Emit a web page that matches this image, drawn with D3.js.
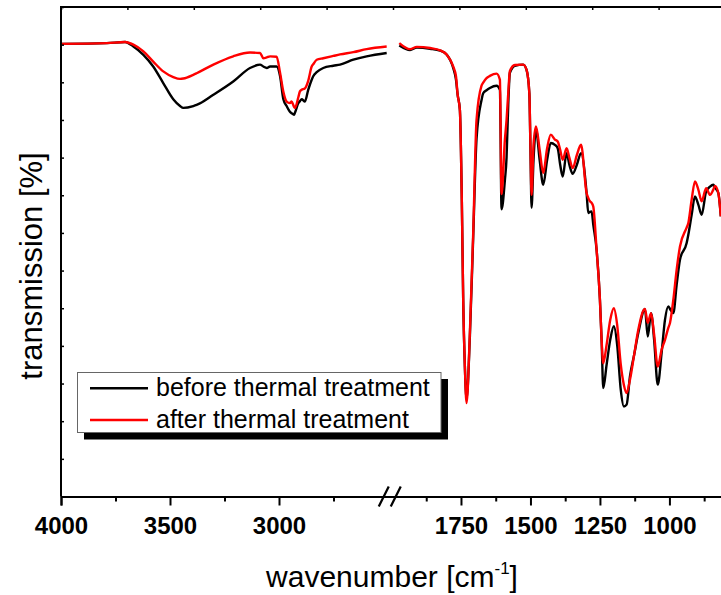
<!DOCTYPE html>
<html><head><meta charset="utf-8">
<script src="https://cdn.jsdelivr.net/npm/d3@7"></script>
<style>body{margin:0;background:#fff} svg{display:block}</style>
</head><body>
<svg id="c" width="721" height="595"></svg>
<script>
// ---- data ----
const wnLeft = [4000,3790,3706,3668,3622,3577,3531,3485,3454,3439,3393,3378,3301,3210,3133,3087,3072,3056,3041,3011,2995,2980,2965,2950,2942,2931,2927,2911,2904,2896,2881,2866,2850,2843,2827,2797,2751,2720,2659,2598,2506];
const beforeLeft = [120.2,120.4,120.7,119.5,117.3,114.2,109.8,105.5,103.7,103.2,103.7,104.0,106.7,110.2,113.8,114.7,114.2,113.8,114.2,114.2,111.6,105.5,103.7,102.2,101.8,101.4,101.9,104.5,105.0,105.5,104.9,108.0,110.7,111.6,112.7,113.8,114.4,114.7,116.0,116.9,117.8];
const afterLeft = [120.2,120.4,120.7,120.0,118.2,115.5,112.9,111.4,110.9,111.0,112.0,112.4,114.7,116.9,117.9,117.8,116.4,116.6,116.9,116.8,112.5,107.5,104.9,104.5,104.9,103.5,103.2,106.1,107.6,108.0,108.4,110.4,114.2,114.8,116.0,116.4,117.0,117.4,118.0,118.8,119.5];

const wnRight = [1972,1933,1909,1861,1825,1801,1778,1768,1762,1754,
 1747,1742,1736,1730,1718,1706,1694,1676,1670,1658,
 1646,1622,1610,1604,1592,1586,1580,1574,1556,1526,
 1514,1504,1500,1496,1489,1480,1467,1454,1440,1427,
 1412,1402,1393,1384,1370,1360,1348,1333,1318,1298,
 1292,1286,1280,1274,1262,1250,1244,1238,1226,1213,
 1200,1188,1175,1164,1154,1142,1127,1112,1088,1078,
 1066,1055,1042,1028,1016,1004,998,986,974,962,
 938,932,920,908,896,884,868,854,842,836,
 824,815];
const beforeRight = [119.8,118.6,119.2,118.9,118.4,117.3,113.8,110.7,106.7,102.7,
 78.8,52.2,34.5,25.9,42.5,69.0,95.0,105.3,107.1,107.9,
 108.5,109.1,108.0,76.3,84.0,90.0,104.0,112.5,114.4,114.7,
 113.3,107.1,92.0,76.7,89.4,97.4,89.4,82.8,89.4,93.9,
 93.4,92.5,88.1,85.0,91.2,88.1,85.7,88.1,91.2,80.6,
 75.3,75.6,75.7,72.2,65.5,52.2,41.6,28.8,35.0,41.6,
 45.2,40.3,28.3,23.9,24.4,31.9,37.6,43.4,49.8,42.5,
 48.7,41.6,29.7,38.2,46.9,50.5,49.8,48.7,56.2,62.9,
 67.3,69.5,74.8,79.7,77.5,74.8,81.0,82.3,82.8,82.0,
 80.6,74.4];
const afterRight = [120.4,118.8,119.4,119.1,118.5,117.3,114.2,111.6,106.7,102.7,
 78.8,52.2,34.5,24.8,43.5,70.0,100.0,109.1,109.9,111.1,
 111.7,112.3,110.7,80.3,94.8,100.0,107.0,113.0,114.6,114.7,
 113.3,107.1,93.0,80.1,93.4,98.3,92.1,85.9,92.5,96.1,
 94.8,94.3,92.1,89.4,92.5,90.0,87.2,90.7,93.4,80.6,
 79.3,78.4,78.0,77.0,65.5,52.2,41.6,35.4,40.3,46.9,
 50.0,45.6,35.0,29.7,27.5,31.0,37.6,44.3,49.8,46.1,
 48.7,43.0,34.5,39.0,41.6,44.8,46.1,52.2,60.2,66.4,
 71.4,72.6,78.8,83.7,81.5,78.4,81.9,80.1,81.5,82.5,
 80.6,74.4];

const xTickMajor = [4000,3500,3000,1750,1500,1250,1000];
const xTickMinor = [3750,3250,2750,1875,1625,1375,1125,875];
const yTicks = d3.range(0, 131, 10);
const topTicks = d3.range(0, 11, 1);
const seriesNames = ["before thermal treatment", "after thermal treatment"];
const seriesColors = ["#000000", "#ff0000"];
const xTitle = "wavenumber [cm";
const yTitle = "transmission [%]";

// ---- layout ----
const L = 61, R = 725, T = 7, B = 496.5;
const svg = d3.select("#c");
const font = "'Liberation Sans', Arial, sans-serif";

const x = d3.scaleLinear().domain([4000, 2500, 2000, 800]).range([L, 388, 391.5, R]);
const y = d3.scaleLinear().domain([0, 130]).range([B, T]);
const xTop = d3.scaleLinear().domain([0, 10]).range([L, R]);

svg.append("clipPath").attr("id", "clip").append("rect")
  .attr("x", L).attr("y", T).attr("width", R - L).attr("height", B - T);

// curves
const line = d3.line().x(d => x(d[0])).y(d => y(d[1])).curve(d3.curveMonotoneX);
const segs = [
  [wnLeft, beforeLeft, 0], [wnLeft, afterLeft, 1],
  [wnRight, beforeRight, 0], [wnRight, afterRight, 1]
];
const g = svg.append("g").attr("clip-path", "url(#clip)");
[0, 1].forEach(si => {
  segs.filter(s => s[2] === si).forEach(s => {
    g.append("path").datum(d3.zip(s[0], s[1]))
      .attr("d", line).attr("fill", "none")
      .attr("stroke", seriesColors[si]).attr("stroke-width", 2.4)
      .attr("stroke-linejoin", "round");
  });
});

// frame
svg.append("path").attr("d", `M${L},${B}V${T}H${R}V${B}`)
  .attr("fill", "none").attr("stroke", "#000").attr("stroke-width", 2);

// bottom axis
const ax = svg.append("g").attr("transform", `translate(0,${B})`);
ax.call(d3.axisBottom(x).tickValues(xTickMajor).tickSize(9).tickFormat(d3.format("d")));
ax.select(".domain").attr("stroke-width", 2);
ax.selectAll(".tick line").attr("stroke-width", 2);
ax.selectAll(".tick text").attr("font-family", font).attr("font-weight", "bold")
  .attr("font-size", 24).attr("dy", "1.05em").attr("fill", "#000");
const axm = svg.append("g").attr("transform", `translate(0,${B})`);
axm.call(d3.axisBottom(x).tickValues(xTickMinor).tickSize(5).tickFormat(""));
axm.select(".domain").remove();
axm.selectAll(".tick line").attr("stroke-width", 2);

// axis break marks
const bx = (x(2500) + x(2000)) / 2;
[-6, 6].forEach(o => {
  svg.append("line").attr("x1", bx + o - 5).attr("y1", B + 10).attr("x2", bx + o + 5).attr("y2", B - 10)
    .attr("stroke", "#000").attr("stroke-width", 2.2);
});

// left axis (inward ticks, no labels)
const ay = svg.append("g").attr("transform", `translate(${L},0)`);
ay.call(d3.axisRight(y).tickValues(yTicks).tickSize(3).tickFormat(""));
ay.select(".domain").remove();
ay.selectAll(".tick line").attr("stroke-width", 1.5);

// top axis (inward ticks)
const at = svg.append("g").attr("transform", `translate(0,${T})`);
at.call(d3.axisBottom(xTop).tickValues(topTicks).tickSize(3).tickFormat(""));
at.select(".domain").remove();
at.selectAll(".tick line").attr("stroke-width", 1.5);

// titles
const xt = svg.append("text").attr("x", 392).attr("y", 587).attr("text-anchor", "middle")
  .attr("font-family", font).attr("font-size", 30).attr("fill", "#000");
xt.append("tspan").text(xTitle);
xt.append("tspan").text("-1").attr("font-size", 17).attr("dy", -13);
xt.append("tspan").text("]").attr("dy", 13);

svg.append("text").attr("transform", "translate(42,266) rotate(-90)")
  .attr("text-anchor", "middle").attr("font-family", font).attr("font-size", 31)
  .attr("fill", "#000").text(yTitle);

// legend
const lg = svg.append("g");
lg.append("rect").attr("x", 84).attr("y", 379).attr("width", 364).attr("height", 60.5).attr("fill", "#000");
lg.append("rect").attr("x", 77.5).attr("y", 372.5).attr("width", 363.5).attr("height", 60)
  .attr("fill", "#fff").attr("stroke", "#666").attr("stroke-width", 1);
seriesNames.forEach((n, i) => {
  const yy = 388.3 + i * 31.7;
  lg.append("line").attr("x1", 90).attr("x2", 148).attr("y1", yy).attr("y2", yy)
    .attr("stroke", seriesColors[i]).attr("stroke-width", 2.4);
  lg.append("text").attr("x", 156).attr("y", yy + 8).attr("font-family", font)
    .attr("font-size", 25).attr("fill", "#000").text(n);
});
</script>
</body></html>
